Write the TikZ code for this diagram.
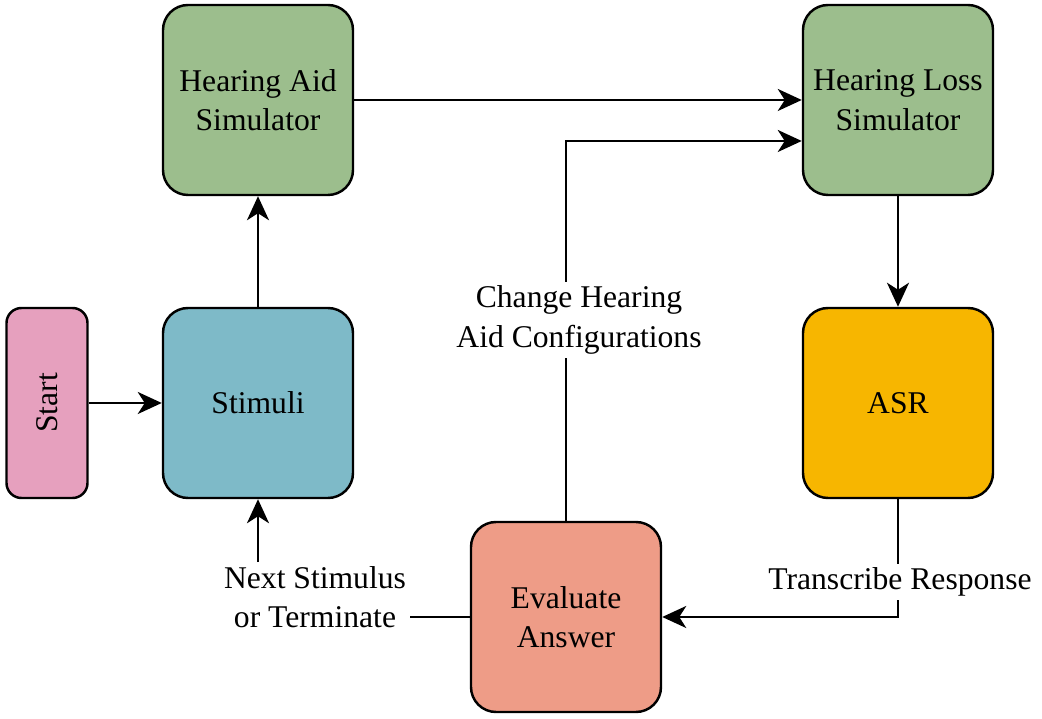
\documentclass[tikz,border=0pt]{standalone}
\usepackage{fontspec}
\setmainfont{Liberation Serif}
\usetikzlibrary{arrows.meta}

\definecolor{aidgreen}{RGB}{156,190,141}
\definecolor{stimblue}{RGB}{126,186,200}
\definecolor{startpink}{RGB}{230,160,190}
\definecolor{asryellow}{RGB}{247,182,0}
\definecolor{evalsalmon}{RGB}{238,156,135}

\tikzset{
  block/.style={draw=black, line width=1.4pt, rounded corners=0.5cm,
    minimum width=3.8cm, minimum height=3.8cm, align=center,
    font=\fontsize{18}{22.5}\selectfont},
  lbl/.style={fill=white, align=center, inner sep=2pt,
    font=\fontsize{18}{22.5}\selectfont},
  flow/.style={line width=1.5pt, -{Stealth[length=0.48cm, width=0.44cm, inset=0.14cm]}}
}

\begin{document}
\begin{tikzpicture}
\useasboundingbox (0,0) rectangle (20.84,14.38);

% Blocks
\node[block, fill=startpink, rounded corners=0.3cm, minimum width=1.62cm] (start) at (0.94,6.32) {\rotatebox{90}{Start}};
\node[block, fill=stimblue] (stimuli) at (5.16,6.32) {Stimuli};
\node[block, fill=aidgreen] (aid) at (5.16,12.38) {Hearing Aid\\Simulator};
\node[block, fill=aidgreen] (loss) at (17.96,12.38) {Hearing Loss\\Simulator};
\node[block, fill=asryellow] (asr) at (17.96,6.32) {ASR};
\node[block, fill=evalsalmon] (eval) at (11.32,2.04) {Evaluate\\Answer};

% Labels
\node[lbl] (change) at (11.58,7.98) {Change Hearing\\Aid Configurations};
\node[lbl] (transcribe) at (18.0,2.74) {Transcribe Response};
\node[lbl] (next) at (6.3,2.44) {Next Stimulus\\or Terminate};
\coordinate (cfg) at (17.96,11.56);

% Connectors
\draw[flow] (start) -- (stimuli);
\draw[flow] (stimuli) -- (aid);
\draw[flow] (aid) -- (loss);
\draw[flow] (loss) -- (asr);
\draw[line width=1.5pt] (eval.north) -- (eval.north |- change.south);
\draw[flow] (eval.north |- change.north) |- (cfg -| loss.west);
\draw[line width=1.5pt] (asr.south) -- (transcribe.north -| asr.south);
\draw[flow] (transcribe.south -| asr.south) |- (eval.east);
\draw[line width=1.5pt] (eval.west) -- (next.east |- eval.west);
\draw[flow] (next.north -| stimuli.south) -- (stimuli.south);
\end{tikzpicture}
\end{document}
